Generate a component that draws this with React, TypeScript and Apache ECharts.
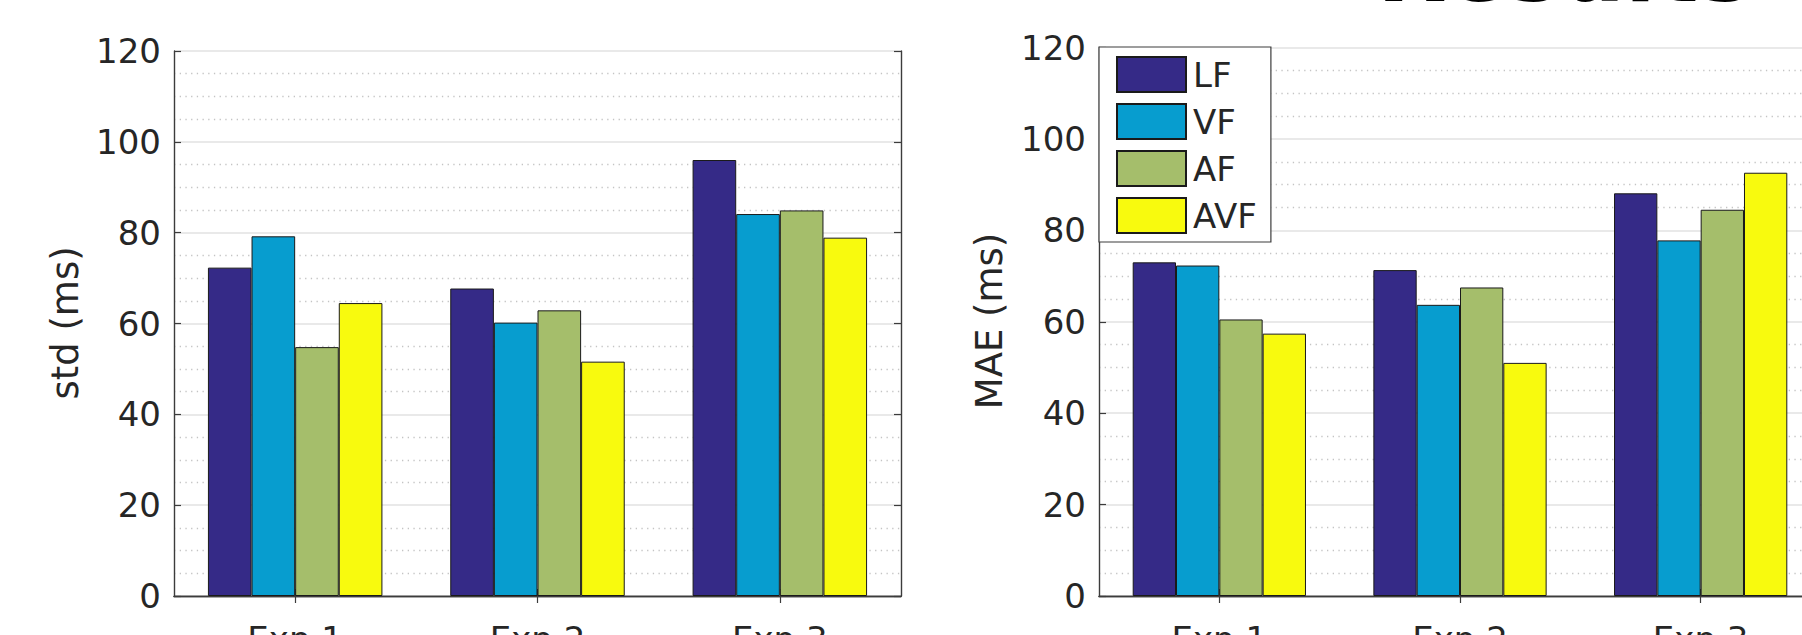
import React, { useEffect, useRef } from "react";
import * as echarts from "echarts";

const categories = ["Exp 1", "Exp 2", "Exp 3"];
const seriesNames = ["LF", "VF", "AF", "AVF"];
const seriesColors = ["#352a87", "#079dcf", "#a5be6b", "#f8fa0e"];

// std (ms) — left panel
const stdLF = [72.3, 67.7, 96.0];
const stdVF = [79.2, 60.2, 84.1];
const stdAF = [54.8, 62.9, 84.9];
const stdAVF = [64.5, 51.6, 78.9];

// MAE (ms) — right panel
const maeLF = [73.0, 71.3, 88.1];
const maeVF = [72.3, 63.7, 77.8];
const maeAF = [60.5, 67.5, 84.5];
const maeAVF = [57.4, 51.0, 92.6];

const yTicksMin = 0;
const yTicksMax = 120;
const yTickStep = 20;

const FONT = "DejaVu Sans";
const AXIS_COLOR = "#3c3c3c";
const TEXT_COLOR = "#262626";

export default function App() {
  const ref = useRef<HTMLDivElement>(null);

  useEffect(() => {
    if (!ref.current) return;
    const chart = echarts.init(ref.current, null, { renderer: "svg" });

    const stdData = [stdLF, stdVF, stdAF, stdAVF];
    const maeData = [maeLF, maeVF, maeAF, maeAVF];

    const axisLine = { show: true, lineStyle: { color: AXIS_COLOR, width: 1.4 } };
    const axisTick = {
      show: true,
      inside: true,
      length: 7,
      lineStyle: { color: AXIS_COLOR, width: 1.2 },
    };

    const makeX = (gridIndex: number, position: string, labels: boolean) => ({
      gridIndex,
      type: "category",
      data: categories,
      position,
      axisLine,
      axisTick: { ...axisTick, alignWithLabel: true },
      axisLabel: labels
        ? { show: true, margin: 26, fontSize: 34, fontFamily: FONT, color: TEXT_COLOR }
        : { show: false },
      splitLine: { show: false },
    });

    const makeY = (gridIndex: number, position: string, main: boolean) => ({
      gridIndex,
      type: "value",
      min: yTicksMin,
      max: yTicksMax,
      interval: yTickStep,
      position,
      axisLine,
      axisTick,
      axisLabel: main
        ? { show: true, margin: 13, fontSize: 34, fontFamily: FONT, color: TEXT_COLOR }
        : { show: false },
      splitLine: main
        ? { show: true, lineStyle: { color: "#e2e2e2", width: 1.6 } }
        : { show: false },
      minorTick: { show: false, splitNumber: 4 },
      minorSplitLine: main
        ? { show: true, lineStyle: { color: "#c4c4c4", width: 1.3, type: [1.3, 4.4] } }
        : { show: false },
    });

    const makeSeries = (data: number[][], xAxisIndex: number, yAxisIndex: number) =>
      data.map((vals, i) => ({
        name: seriesNames[i],
        type: "bar",
        xAxisIndex,
        yAxisIndex,
        data: vals,
        barWidth: "18%",
        barGap: "0%",
        itemStyle: { color: seriesColors[i], borderColor: "#1a1a1a", borderWidth: 1 },
      }));

    const option = {
      animation: false,
      backgroundColor: "#ffffff",
      grid: [
        { left: 174, top: 51, width: 727, height: 545, containLabel: false, outerBoundsMode: "none" },
        { left: 1099, top: 47.5, width: 722, height: 548.5, containLabel: false, outerBoundsMode: "none" },
      ],
      xAxis: [
        makeX(0, "bottom", true),
        makeX(0, "top", false),
        makeX(1, "bottom", true),
        makeX(1, "top", false),
      ],
      yAxis: [
        makeY(0, "left", true),
        makeY(0, "right", false),
        makeY(1, "left", true),
        makeY(1, "right", false),
      ],
      legend: {
        show: true,
        orient: "vertical",
        left: 1099,
        top: 47,
        data: seriesNames,
        selectedMode: false,
        itemWidth: 69,
        itemHeight: 35,
        itemGap: 10,
        padding: [9, 14, 8, 17],
        backgroundColor: "#ffffff",
        borderColor: "#3c3c3c",
        borderWidth: 1.2,
        borderRadius: 0,
        icon: "rect",
        textStyle: { fontSize: 34, fontFamily: FONT, color: TEXT_COLOR, padding: [0, 0, 0, 2] },
        z: 10,
      },
      series: [...makeSeries(stdData, 0, 0), ...makeSeries(maeData, 2, 2)],
      graphic: [
        {
          type: "text",
          x: 65,
          y: 323,
          rotation: Math.PI / 2,
          style: {
            text: "std (ms)",
            fontSize: 37,
            fontFamily: FONT,
            fill: TEXT_COLOR,
            align: "center",
            verticalAlign: "middle",
          },
        },
        {
          type: "text",
          x: 989,
          y: 321,
          rotation: Math.PI / 2,
          style: {
            text: "MAE (ms)",
            fontSize: 37,
            fontFamily: FONT,
            fill: TEXT_COLOR,
            align: "center",
            verticalAlign: "middle",
          },
        },
        {
          type: "text",
          x: 1377,
          y: -31,
          z: 20,
          style: {
            text: "Results of",
            fontSize: 90,
            fontWeight: "bold",
            fontFamily: FONT,
            fill: "#000000",
            align: "left",
            verticalAlign: "middle",
          },
        },
      ],
    };

    chart.setOption(option as any);
    return () => chart.dispose();
  }, []);

  return (
    <div
      ref={ref}
      style={{ position: "absolute", left: 0, top: 0, width: 1802, height: 635 }}
    />
  );
}
